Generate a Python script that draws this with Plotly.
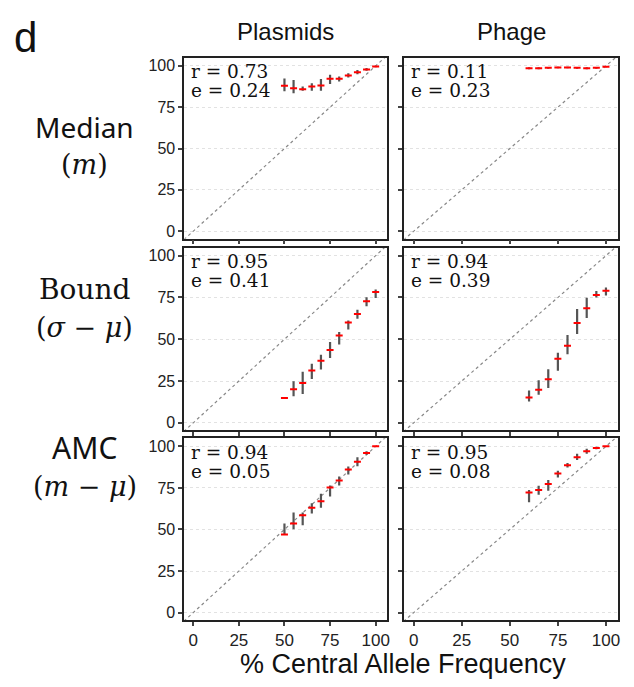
import plotly.graph_objects as go

# ---------------- data ----------------
x_plasmid = [50, 55, 60, 65, 70, 75, 80, 85, 90, 95, 100]
x_phage = [60, 65, 70, 75, 80, 85, 90, 95, 100]

# Median (m)
med_pl = [87.9, 86.5, 85.9, 87.5, 88.1, 92.2, 92.2, 94.2, 96.2, 97.8, 99.6]
med_pl_lo = [84.7, 83.5, 84.9, 84.9, 84.9, 89.0, 90.5, 93.0, 95.0, 97.0, 99.2]
med_pl_hi = [92.4, 91.5, 87.5, 89.5, 92.0, 94.6, 93.5, 95.5, 97.5, 98.7, 100.0]

med_ph = [98.6, 98.6, 98.8, 99.0, 99.0, 98.8, 98.6, 98.8, 99.4]
med_ph_lo = [98.0, 98.0, 98.2, 98.6, 98.6, 98.3, 98.0, 98.2, 99.1]
med_ph_hi = [99.1, 99.1, 99.3, 99.4, 99.4, 99.3, 99.1, 99.3, 99.7]

# Bound (sigma - mu)
bnd_pl = [14.9, 20.1, 23.9, 31.3, 37.1, 43.6, 52.2, 60.0, 65.1, 72.7, 78.3]
bnd_pl_lo = [14.4, 15.9, 17.3, 26.3, 31.9, 38.8, 46.8, 55.8, 62.3, 69.7, 74.7]
bnd_pl_hi = [15.4, 24.9, 30.5, 35.3, 40.8, 48.4, 54.4, 61.2, 67.7, 75.1, 79.7]

bnd_ph = [15.2, 19.8, 26.1, 38.3, 46.1, 59.7, 68.5, 76.5, 79.0]
bnd_ph_lo = [12.8, 16.8, 20.8, 31.1, 41.1, 53.1, 62.7, 75.0, 76.2]
bnd_ph_hi = [19.4, 25.5, 32.1, 41.9, 52.5, 68.1, 74.9, 78.9, 81.0]

# AMC (m - mu)
amc_pl = [47.0, 53.6, 58.6, 63.0, 67.0, 75.3, 79.5, 86.1, 90.8, 96.0, 100.0]
amc_pl_lo = [46.8, 50.2, 52.6, 59.6, 63.1, 69.9, 76.5, 83.1, 88.0, 95.0, 99.7]
amc_pl_hi = [53.6, 60.2, 60.2, 65.7, 71.5, 76.5, 81.9, 87.9, 93.5, 97.0, 100.2]

amc_ph = [72.3, 73.7, 77.3, 83.7, 88.7, 93.4, 97.0, 99.0, 100.0]
amc_ph_lo = [66.3, 70.9, 73.3, 81.3, 87.3, 91.8, 95.6, 98.2, 99.7]
amc_ph_hi = [73.7, 76.3, 79.7, 85.3, 90.0, 95.5, 98.6, 99.8, 100.2]

col_titles = ["Plasmids", "Phage"]
row_titles = [("Median", "(<i>m</i>)", "Noto Sans", 28),
              ("Bound", "(<i>σ</i> − <i>μ</i>)", "DejaVu Serif", 28),
              ("AMC", "(<i>m</i> − <i>μ</i>)", "Noto Sans", 30)]
stats_r = [["r = 0.73", "r = 0.11"], ["r = 0.95", "r = 0.94"], ["r = 0.94", "r = 0.95"]]
stats_e = [["e = 0.24", "e = 0.23"], ["e = 0.41", "e = 0.39"], ["e = 0.05", "e = 0.08"]]
tick_vals = [0, 25, 50, 75, 100]
tick_text = ["0", "25", "50", "75", "100"]
x_title = "% Central Allele Frequency"

panels = [
    [(x_plasmid, med_pl, med_pl_lo, med_pl_hi), (x_phage, med_ph, med_ph_lo, med_ph_hi)],
    [(x_plasmid, bnd_pl, bnd_pl_lo, bnd_pl_hi), (x_phage, bnd_ph, bnd_ph_lo, bnd_ph_hi)],
    [(x_plasmid, amc_pl, amc_pl_lo, amc_pl_hi), (x_phage, amc_ph, amc_ph_lo, amc_ph_hi)],
]

# ---------------- layout geometry ----------------
W, H = 634, 687
col_px = [(185, 389), (406, 621)]
row_px = [(58, 239), (248, 431), (439, 621)]

fig = go.Figure()
layout = dict(width=W, height=H, margin=dict(l=0, r=0, t=0, b=0),
              paper_bgcolor="white", plot_bgcolor="white", showlegend=False)

annotations = []
k = 0
for r in range(3):
    for c in range(2):
        k += 1
        xa = "xaxis" if k == 1 else f"xaxis{k}"
        ya = "yaxis" if k == 1 else f"yaxis{k}"
        xr = "x" if k == 1 else f"x{k}"
        yr = "y" if k == 1 else f"y{k}"
        x0, x1 = col_px[c]
        y0, y1 = row_px[r]
        ph = y1 - y0
        layout[xa] = dict(domain=[x0 / W, x1 / W], range=[-5, 106.3], anchor=yr,
                          tickvals=tick_vals, ticktext=tick_text,
                          showticklabels=(r == 2), ticks="outside", ticklen=4,
                          tickwidth=1.5, tickcolor="#444", showgrid=False,
                          zeroline=False, showline=True, mirror=True,
                          linecolor="#222", linewidth=1.5,
                          tickfont=dict(family="Liberation Sans", size=17, color="#222"))
        layout[ya] = dict(domain=[1 - y1 / H, 1 - y0 / H], range=[-4.5, 104.8], anchor=xr,
                          tickvals=tick_vals, ticktext=tick_text,
                          showticklabels=(c == 0), ticks="outside", ticklen=4,
                          tickwidth=1.5, tickcolor="#444", showgrid=True,
                          gridcolor="#e2e2e2", griddash="dot", gridwidth=1,
                          zeroline=False, showline=True, mirror=True,
                          linecolor="#222", linewidth=1.5,
                          tickfont=dict(family="Liberation Sans", size=16, color="#222"))
        # diagonal reference
        fig.add_trace(go.Scatter(x=[-10, 110], y=[-10, 110], mode="lines",
                                 line=dict(color="#888", width=1.2, dash="dot"),
                                 xaxis=xr, yaxis=yr, hoverinfo="skip"))
        xs, ys, lo, hi = panels[r][c]
        fig.add_trace(go.Scatter(
            x=xs, y=ys, mode="markers", xaxis=xr, yaxis=yr,
            marker=dict(symbol="line-ew", size=5, color="red",
                        line=dict(color="red", width=2)),
            error_y=dict(type="data", symmetric=False,
                         array=[h - v for h, v in zip(hi, ys)],
                         arrayminus=[v - l for v, l in zip(ys, lo)],
                         width=0, thickness=2.2, color="#555")))
        for txt, off in ((stats_r[r][c], 13.5), (stats_e[r][c], 32.5)):
            annotations.append(dict(xref=f"{xr} domain", yref=f"{yr} domain",
                                    x=0.03, y=1 - off / ph, xanchor="left", yanchor="middle",
                                    align="left", showarrow=False, text=txt, height=18,
                                    borderpad=0,
                                    font=dict(family="DejaVu Serif", size=18.5, color="#111")))

# column titles
for c, t in enumerate(col_titles):
    cx = (col_px[c][0] + col_px[c][1]) / 2 / W
    annotations.append(dict(xref="paper", yref="paper", x=cx, y=1 - 32 / H,
                            text=t, showarrow=False, xanchor="center", yanchor="middle",
                            font=dict(family="Liberation Sans", size=24, color="#111")))

# row titles
row_centers = [(127, 165), (290, 328), (448, 487)]
for r, (t1, t2, fam, sz) in enumerate(row_titles):
    ya, yb = row_centers[r]
    annotations.append(dict(xref="paper", yref="paper", x=85 / W, y=1 - ya / H,
                            text=t1, showarrow=False, xanchor="center", yanchor="middle",
                            font=dict(family=fam, size=sz, color="#111")))
    annotations.append(dict(xref="paper", yref="paper", x=85 / W, y=1 - yb / H,
                            text=t2, showarrow=False, xanchor="center", yanchor="middle",
                            font=dict(family="DejaVu Serif", size=27, color="#111")))

# panel letter
annotations.append(dict(xref="paper", yref="paper", x=12 / W, y=1 - 38 / H, text="d",
                        showarrow=False, xanchor="left", yanchor="middle",
                        font=dict(family="Liberation Sans", size=42, color="#111")))
# x-axis title
annotations.append(dict(xref="paper", yref="paper", x=405 / W, y=1 - 665 / H, text=x_title,
                        showarrow=False, xanchor="center", yanchor="middle",
                        font=dict(family="Liberation Sans", size=27, color="#111")))

layout["annotations"] = annotations
fig.update_layout(**layout)
fig.write_html("out.html")
